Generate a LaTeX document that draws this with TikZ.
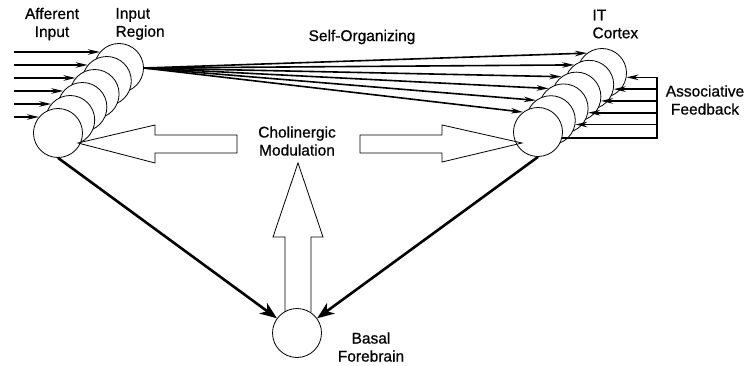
\documentclass[tikz,border=0pt]{standalone}
\usepackage{fontspec}
\setmainfont{Liberation Sans}
\newfontfamily\lblfont[FakeBold=0.7]{Liberation Sans}
\usetikzlibrary{arrows.meta, positioning, calc}

\tikzset{
  unit/.style={draw, fill=white, circle, inner sep=0pt, minimum size=49pt, line width=0.8pt},
  lbl/.style={font=\lblfont\fontsize{15.5}{18}\selectfont, align=center},
  fiber/.style={line width=1.6pt, -{Stealth[length=12pt,width=5.5pt]}},
  tract/.style={line width=2.6pt, -{Stealth[length=17pt,width=13pt,inset=5pt]}},
  hollow/.style={draw, line width=0.8pt, line join=miter}
}

\begin{document}
\begin{tikzpicture}[x=1pt, y=-1pt]
  \useasboundingbox (0,0) rectangle (751,366);

  % input region, back to front
  \node[unit] (lc5) at (119,68) {};
  \node[unit] (lc4) at (106.8,81) {};
  \node[unit] (lc3) at (94.6,94) {};
  \node[unit] (lc2) at (82.4,107) {};
  \node[unit] (lc1) at (70.2,120) {};
  \node[unit] (lc0) at (58,133) {};

  % IT cortex, back to front
  \node[unit] (rc5) at (602,73) {};
  \node[unit] (rc4) at (589.2,84.8) {};
  \node[unit] (rc3) at (576.4,96.6) {};
  \node[unit] (rc2) at (563.6,108.4) {};
  \node[unit] (rc1) at (550.8,120.2) {};
  \node[unit] (rc0) at (538,132) {};

  % cholinergic up arrow, then basal forebrain on top of it
  \draw[hollow] (285,312) -- (285,237) -- (273,237) -- (298,163) -- (323,237) -- (311,237) -- (311,312);
  \node[unit] (basal) at (297,333) {};

  % labels
  \node[lbl] (aff) at (52,24) {Afferent\\Input};
  \node[lbl, align=left, anchor=west] (inreg) at (112,24) {Input\\Region};
  \node[lbl] (selforg) at (362,37) {Self-Organizing};
  \node[lbl, align=left, anchor=west] (itc) at (589,24) {IT\\Cortex};
  \node[lbl] (assoc) at (705,100) {Associative\\Feedback};
  \node[lbl] (chol) at (297,141) {Cholinergic\\Modulation};
  \node[lbl] (forebrain) at (371,347) {Basal\\Forebrain};

  % afferent input
  \coordinate (ain) at (14,0);
  \draw[fiber] (ain |- lc5.140) -- (lc5.140);
  \draw[fiber] (ain |- lc4.140) -- (lc4.140);
  \draw[fiber] (ain |- lc3.140) -- (lc3.140);
  \draw[fiber] (ain |- lc2.140) -- (lc2.140);
  \draw[fiber] (ain |- lc1.140) -- (lc1.140);
  \draw[fiber] (ain |- lc0.140) -- (lc0.140);

  % self-organizing fan
  \draw[fiber] (lc5.east) -- (rc5.127);
  \draw[fiber] (lc5.east) -- (rc4.127);
  \draw[fiber] (lc5.east) -- (rc3.127);
  \draw[fiber] (lc5.east) -- (rc2.127);
  \draw[fiber] (lc5.east) -- (rc1.127);
  \draw[fiber] (lc5.east) -- (rc0.127);

  % associative feedback
  \coordinate (fb) at (657,0);
  \draw[line width=1.6pt] (fb |- rc5.-10) -- (fb |- rc0.-14) -- (rc0.-14);
  \draw[fiber] (fb |- rc5.-10) -- (rc5.-10);
  \draw[fiber] (fb |- rc4.-10) -- (rc4.-10);
  \draw[fiber] (fb |- rc3.-10) -- (rc3.-10);
  \draw[fiber] (fb |- rc2.-10) -- (rc2.-10);
  \draw[fiber] (fb |- rc1.-10) -- (rc1.-10);

  % cholinergic side arrows
  \draw[hollow] (78,143) -- (155,125) -- (155,135) -- (237,135) -- (237,153) -- (155,153) -- (155,163) -- cycle;
  \draw[hollow] (360,135) -- (442,135) -- (442,125) -- (522,143) -- (442,162) -- (442,153) -- (360,153) -- cycle;

  % projections to basal forebrain
  \draw[tract] (lc0.south) -- (basal);
  \draw[tract] (rc0.south) -- (basal);
\end{tikzpicture}
\end{document}
